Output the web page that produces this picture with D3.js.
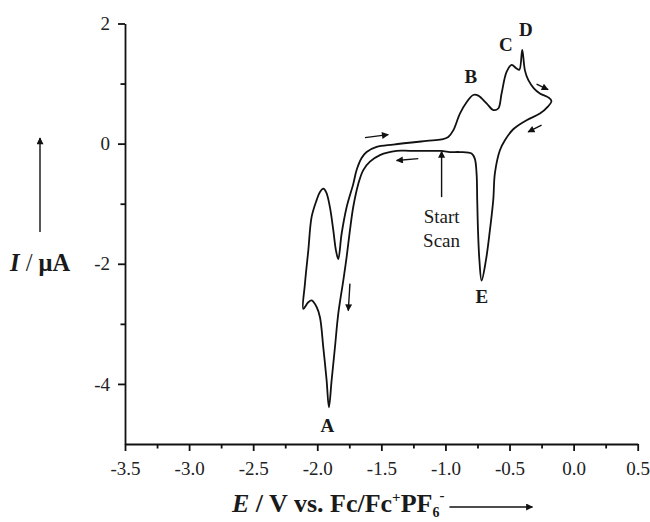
<!DOCTYPE html>
<html>
<head>
<meta charset="utf-8">
<script src="https://cdn.jsdelivr.net/npm/d3@7"></script>
<style>
  body { margin: 0; background: #fff; }
  svg { display: block; }
  .tick text { font-family: "Liberation Serif", "Times New Roman", serif; font-size: 19px; fill: #222; }
  .lbl { font-family: "Liberation Serif", "Times New Roman", serif; fill: #1a1a1a; }
</style>
</head>
<body>
<svg id="chart" width="650" height="522"></svg>
<script>
// cyclic voltammogram; starts at "Start Scan" and goes cathodic
const potential = [
  -1.030, -1.277, -1.381, -1.511, -1.589, -1.641, -1.680, -1.719, -1.745, -1.771,
  -1.797, -1.836, -1.862, -1.888, -1.909, -1.927, -1.953, -1.979, -2.005, -2.044,
  -2.070, -2.109, -2.096, -2.070, -2.044, -2.005, -1.980, -1.953, -1.930, -1.901,
  -1.875, -1.854, -1.836, -1.810, -1.771, -1.719, -1.693, -1.654, -1.615, -1.537,
  -1.407, -1.147, -1.030, -0.978, -0.939, -0.887, -0.835, -0.783, -0.744, -0.679,
  -0.627, -0.588, -0.562, -0.523, -0.484, -0.445, -0.423, -0.401, -0.380, -0.354,
  -0.310, -0.263, -0.198, -0.173, -0.201, -0.263, -0.367, -0.471, -0.536, -0.575,
  -0.614, -0.627, -0.653, -0.684, -0.718, -0.735, -0.746, -0.752, -0.757, -0.771,
  -0.796, -0.887, -0.965, -1.030
];
const current = [
  -0.12, -0.12, -0.12, -0.19, -0.30, -0.44, -0.67, -1.05, -1.44, -1.89,
  -2.28, -2.83, -3.39, -3.94, -4.39, -3.94, -3.39, -2.89, -2.72, -2.61,
  -2.64, -2.75, -2.33, -1.78, -1.22, -0.94, -0.81, -0.75, -0.81, -1.06,
  -1.44, -1.78, -1.92, -1.50, -1.06, -0.67, -0.44, -0.24, -0.14, -0.055,
  -0.015, 0.045, 0.07, 0.11, 0.22, 0.50, 0.69, 0.81, 0.80, 0.67,
  0.56, 0.585, 0.835, 1.195, 1.31, 1.25, 1.23, 1.56, 1.22, 1.06,
  0.92, 0.835, 0.77, 0.71, 0.615, 0.50, 0.39, 0.24, 0.057, -0.11,
  -0.49, -0.94, -1.44, -1.94, -2.28, -1.94, -1.44, -0.94, -0.50, -0.25,
  -0.165, -0.14, -0.14, -0.12
];

const xMajor = [-3.5, -3.0, -2.5, -2.0, -1.5, -1.0, -0.5, 0.0, 0.5];
const xMinor = [-3.25, -2.75, -2.25, -1.75, -1.25, -0.75, -0.25, 0.25];
const yMajor = [-4, -2, 0, 2];
const yMinor = [-3, -1, 1];

// peak letters [label, E, I]
const peaks = [["A", -1.921, -4.80], ["B", -0.801, 1.01], ["C", -0.528, 1.545], ["D", -0.372, 1.79], ["E", -0.715, -2.66]];
// scan direction arrows [E0, I0, E1, I1]
const scanArrows = [
  [-1.628, 0.10, -1.446, 0.15],
  [-1.212, -0.25, -1.381, -0.28],
  [-1.745, -2.33, -1.758, -2.78],
  [-0.289, 0.99, -0.199, 0.90],
  [-0.250, 0.307, -0.355, 0.195]
];
const startScan = [-1.03, -0.89, -1.03, -0.13];

const svg = d3.select("#chart");
const x = d3.scaleLinear().domain([-3.5, 0.5]).range([125, 637.7]);
const y = d3.scaleLinear().domain([-5, 2]).range([444, 23.5]);

// arrowhead
svg.append("defs").append("marker")
  .attr("id", "head")
  .attr("viewBox", "0 0 10 10")
  .attr("refX", 9).attr("refY", 5)
  .attr("markerWidth", 10).attr("markerHeight", 7)
  .attr("markerUnits", "userSpaceOnUse")
  .attr("orient", "auto")
  .append("path").attr("d", "M0,0L10,5L0,10z").attr("fill", "#111");

// axes: majors with labels, minors without
const gx = svg.append("g").attr("transform", `translate(0,${y(-5)})`);
gx.call(d3.axisBottom(x).tickValues(xMajor).tickSize(7).tickSizeOuter(0).tickFormat(d => d.toFixed(1)));
gx.call(g => g.selectAll(".tick text").attr("y", 31).attr("dy", 0));
svg.append("g").attr("transform", `translate(0,${y(-5)})`)
  .call(d3.axisBottom(x).tickValues(xMinor).tickSize(4.5).tickSizeOuter(0).tickFormat(""))
  .call(g => g.select(".domain").remove());

const gy = svg.append("g").attr("transform", `translate(${x(-3.5)},0)`);
gy.call(d3.axisLeft(y).tickValues(yMajor).tickSize(7).tickSizeOuter(0).tickFormat(d => String(d)));
gy.call(g => g.selectAll(".tick text").attr("x", -15));
svg.append("g").attr("transform", `translate(${x(-3.5)},0)`)
  .call(d3.axisLeft(y).tickValues(yMinor).tickSize(4.5).tickSizeOuter(0).tickFormat(""))
  .call(g => g.select(".domain").remove());

svg.selectAll(".domain, .tick line").attr("stroke", "#111").attr("stroke-width", 1.8);

// the voltammogram
const line = d3.line().x(d => x(d[0])).y(d => y(d[1])).curve(d3.curveCatmullRom.alpha(0.5));
svg.append("path")
  .datum(d3.zip(potential, current))
  .attr("d", line)
  .attr("fill", "none")
  .attr("stroke", "#111")
  .attr("stroke-width", 1.8)
  .attr("stroke-linejoin", "round");

svg.selectAll(".scan").data(scanArrows).join("line")
  .attr("x1", d => x(d[0])).attr("y1", d => y(d[1]))
  .attr("x2", d => x(d[2])).attr("y2", d => y(d[3]))
  .attr("stroke", "#111").attr("stroke-width", 1.4)
  .attr("marker-end", "url(#head)");

svg.append("line")
  .attr("x1", x(startScan[0])).attr("y1", y(startScan[1]))
  .attr("x2", x(startScan[2])).attr("y2", y(startScan[3]))
  .attr("stroke", "#111").attr("stroke-width", 1.4)
  .attr("marker-end", "url(#head)");

const ss = svg.append("text").attr("class", "lbl")
  .attr("text-anchor", "middle").attr("font-size", 19);
ss.append("tspan").attr("x", x(startScan[0])).attr("y", y(startScan[1]) + 26).text("Start");
ss.append("tspan").attr("x", x(startScan[0])).attr("y", y(startScan[1]) + 50).text("Scan");

svg.selectAll(".peak").data(peaks).join("text")
  .attr("class", "lbl")
  .attr("x", d => x(d[1])).attr("y", d => y(d[2]))
  .attr("text-anchor", "middle")
  .attr("font-size", 19).attr("font-weight", "bold")
  .text(d => d[0]);

// y title with upward arrow
const yt = svg.append("text").attr("class", "lbl")
  .attr("x", 10).attr("y", 271).attr("font-size", 24.5).attr("font-weight", "bold");
yt.append("tspan").attr("font-style", "italic").text("I");
yt.append("tspan").attr("font-weight", "normal").text(" / ");
yt.append("tspan").text("μA");
svg.append("line")
  .attr("x1", 40).attr("y1", 232).attr("x2", 40).attr("y2", 138)
  .attr("stroke", "#111").attr("stroke-width", 1.4)
  .attr("marker-end", "url(#head)");

// x title with rightward arrow right after it
const xt = svg.append("text").attr("class", "lbl")
  .attr("x", 232).attr("y", 512).attr("font-size", 26).attr("font-weight", "bold");
xt.append("tspan").attr("font-style", "italic").text("E");
xt.append("tspan").text(" / V vs. Fc/Fc");
xt.append("tspan").attr("font-size", 15).attr("dy", -10).text("+");
xt.append("tspan").attr("dy", 10).text("PF");
xt.append("tspan").attr("font-size", 14).attr("dy", 5).text("6");
xt.append("tspan").attr("font-size", 15).attr("dy", -17).text("-");
const xEnd = xt.node().getBBox();
svg.append("line")
  .attr("x1", xEnd.x + xEnd.width + 5).attr("y1", 507)
  .attr("x2", xEnd.x + xEnd.width + 88).attr("y2", 507)
  .attr("stroke", "#111").attr("stroke-width", 1.4)
  .attr("marker-end", "url(#head)");
</script>
</body>
</html>
